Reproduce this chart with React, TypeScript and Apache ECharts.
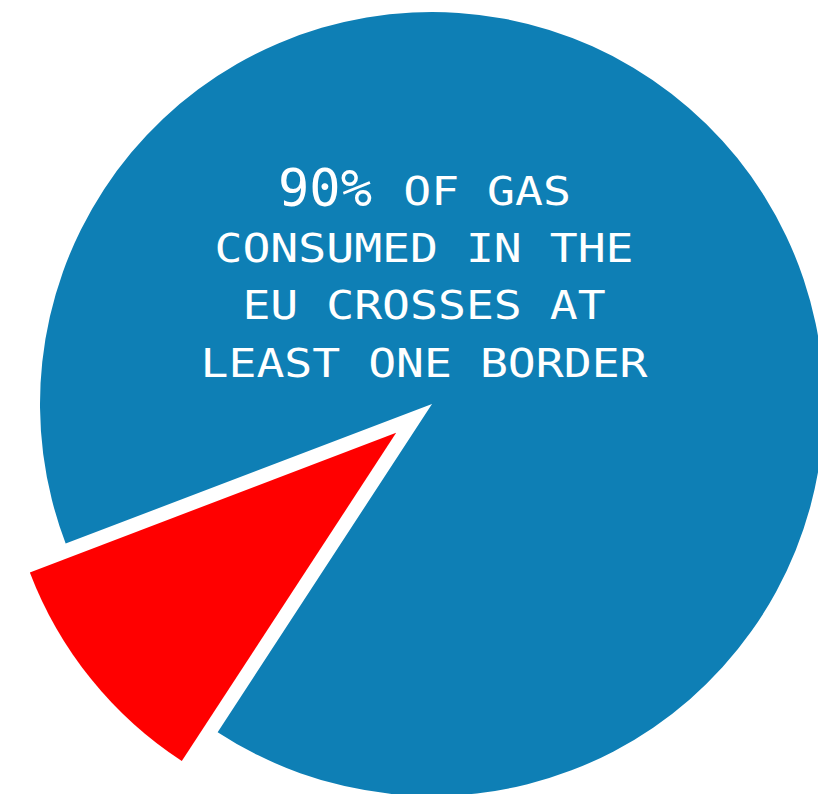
import React, { useEffect, useRef } from "react";
import * as echarts from "echarts";

const categories = ["Crosses at least one border", "Does not cross a border"];
const values = [90, 10];
const colors = ["#0e7fb5", "#ff0000"];
const headlineBig = "90%";
const headlineRest = "OF GAS";
const textLines = ["CONSUMED IN THE", "EU CROSSES AT", "LEAST ONE BORDER"];

export default function App() {
  const ref = useRef<HTMLDivElement>(null);
  useEffect(() => {
    if (!ref.current) return;
    const chart = echarts.init(ref.current, null, { renderer: "svg" });
    const mono = "'DejaVu Sans Mono', monospace";
    const sx = 1.19;
    const baseY = [248.4, 305.4, 363.4];
    const graphics: any[] = [
      {
        type: "text",
        z: 100,
        x: 325,
        y: 188,
        style: {
          text: headlineBig,
          fill: "#ffffff",
          fontFamily: mono,
          fontSize: 52,
          fontWeight: 300,
          align: "center",
          verticalAlign: "middle",
          textAlign: "center",
          textVerticalAlign: "middle",
        },
      },
      {
        type: "text",
        z: 100,
        x: 487,
        y: 191.4,
        scaleX: sx,
        style: {
          text: headlineRest,
          fill: "#ffffff",
          fontFamily: mono,
          fontSize: 39,
          align: "center",
          verticalAlign: "middle",
          textAlign: "center",
          textVerticalAlign: "middle",
        },
      },
      ...textLines.map((t, i) => ({
        type: "text",
        z: 100,
        x: 424,
        y: baseY[i],
        scaleX: sx,
        style: {
          text: t,
          fill: "#ffffff",
          fontFamily: mono,
          fontSize: 39,
          align: "center",
          verticalAlign: "middle",
          textAlign: "center",
          textVerticalAlign: "middle",
        },
      })),
    ];
    chart.setOption({
      animation: false,
      series: [
        {
          type: "pie",
          z: 1,
          center: [432, 404],
          radius: 392,
          startAngle: 200.85,
          clockwise: true,
          selectedMode: "single",
          selectedOffset: 46,
          silent: true,
          label: { show: false },
          labelLine: { show: false },
          emphasis: { disabled: true },
          data: categories.map((c, i) => ({
            name: c,
            value: values[i],
            selected: i === 1,
            itemStyle: { color: colors[i], borderWidth: 0 },
            select: { itemStyle: { color: colors[i] } },
          })),
        },
      ],
      graphic: graphics,
    });
    return () => chart.dispose();
  }, []);
  return (
    <div
      ref={ref}
      style={{ position: "fixed", left: 0, top: 0, width: 818, height: 794, background: "#ffffff" }}
    />
  );
}
